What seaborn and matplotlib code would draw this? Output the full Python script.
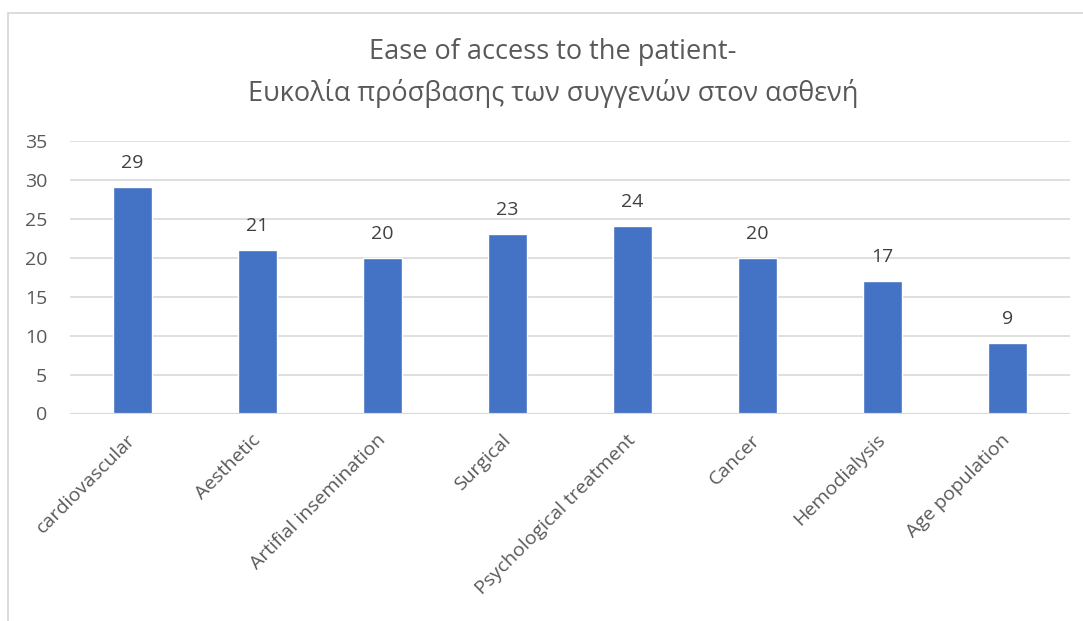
import matplotlib
matplotlib.use("Agg")
import matplotlib.pyplot as plt
from matplotlib.patches import Rectangle
import seaborn as sns
import pandas as pd

categories = ["cardiovascular", "Aesthetic", "Artifial insemination", "Surgical",
              "Psychological treatment", "Cancer", "Hemodialysis", "Age population"]
values = [29, 21, 20, 23, 24, 20, 17, 9]
y_ticks = [0, 5, 10, 15, 20, 25, 30, 35]
title_lines = ["Ease of access to the patient-",
               "Ευκολία πρόσβασης των συγγενών στον ασθενή"]

sns.set_theme(style="white")
plt.rcParams["font.family"] = ["Open Sans", "DejaVu Sans"]

df = pd.DataFrame({"category": categories, "value": values})

W, H = 1083, 621
fig = plt.figure(figsize=(W / 100, H / 100), dpi=100)
ax = fig.add_axes([70 / W, 1 - 413.5 / H, 1000 / W, (413.5 - 140.7) / H])

sns.barplot(data=df, x="category", y="value", color="#4472C4", width=0.31,
            saturation=1, ax=ax, zorder=3)

ax.set_ylim(0, 35)
ax.set_xlim(-0.5, len(categories) - 0.5)
ax.set_yticks(y_ticks)
ax.set_yticklabels([str(t) for t in y_ticks], fontsize=14, color="#595959")
ax.yaxis.grid(True, color="#D9D9D9", linewidth=1.2, zorder=0)
ax.xaxis.grid(False)
for s in ax.spines.values():
    s.set_visible(False)
ax.axhline(0, color="#D9D9D9", linewidth=1.6, zorder=4)
ax.tick_params(axis="y", length=0, pad=16.5)
ax.tick_params(axis="x", length=0, pad=17)
ax.set_xlabel("")
ax.set_ylabel("")

ax.set_xticks(range(len(categories)))
ax.set_xticklabels(categories, rotation=45, ha="right", va="center",
                   rotation_mode="anchor", fontsize=14, color="#595959")

for i, v in enumerate(values):
    ax.annotate(str(v), (i, v), xytext=(0, 17.3), textcoords="offset points",
                ha="center", va="center", fontsize=14, color="#404040")

for i, line in enumerate(title_lines):
    fig.text(553 / W, 1 - (52 + 41 * i) / H, line, ha="center", va="center",
             fontsize=19.5, color="#595959")

fig.patches.append(Rectangle((7.5 / W, -0.1), 1.2, 1 - 12.5 / H + 0.1,
                             transform=fig.transFigure, fill=False,
                             edgecolor="#D9D9D9", linewidth=1.3))

fig.savefig("out.png", dpi=100, facecolor="white")
